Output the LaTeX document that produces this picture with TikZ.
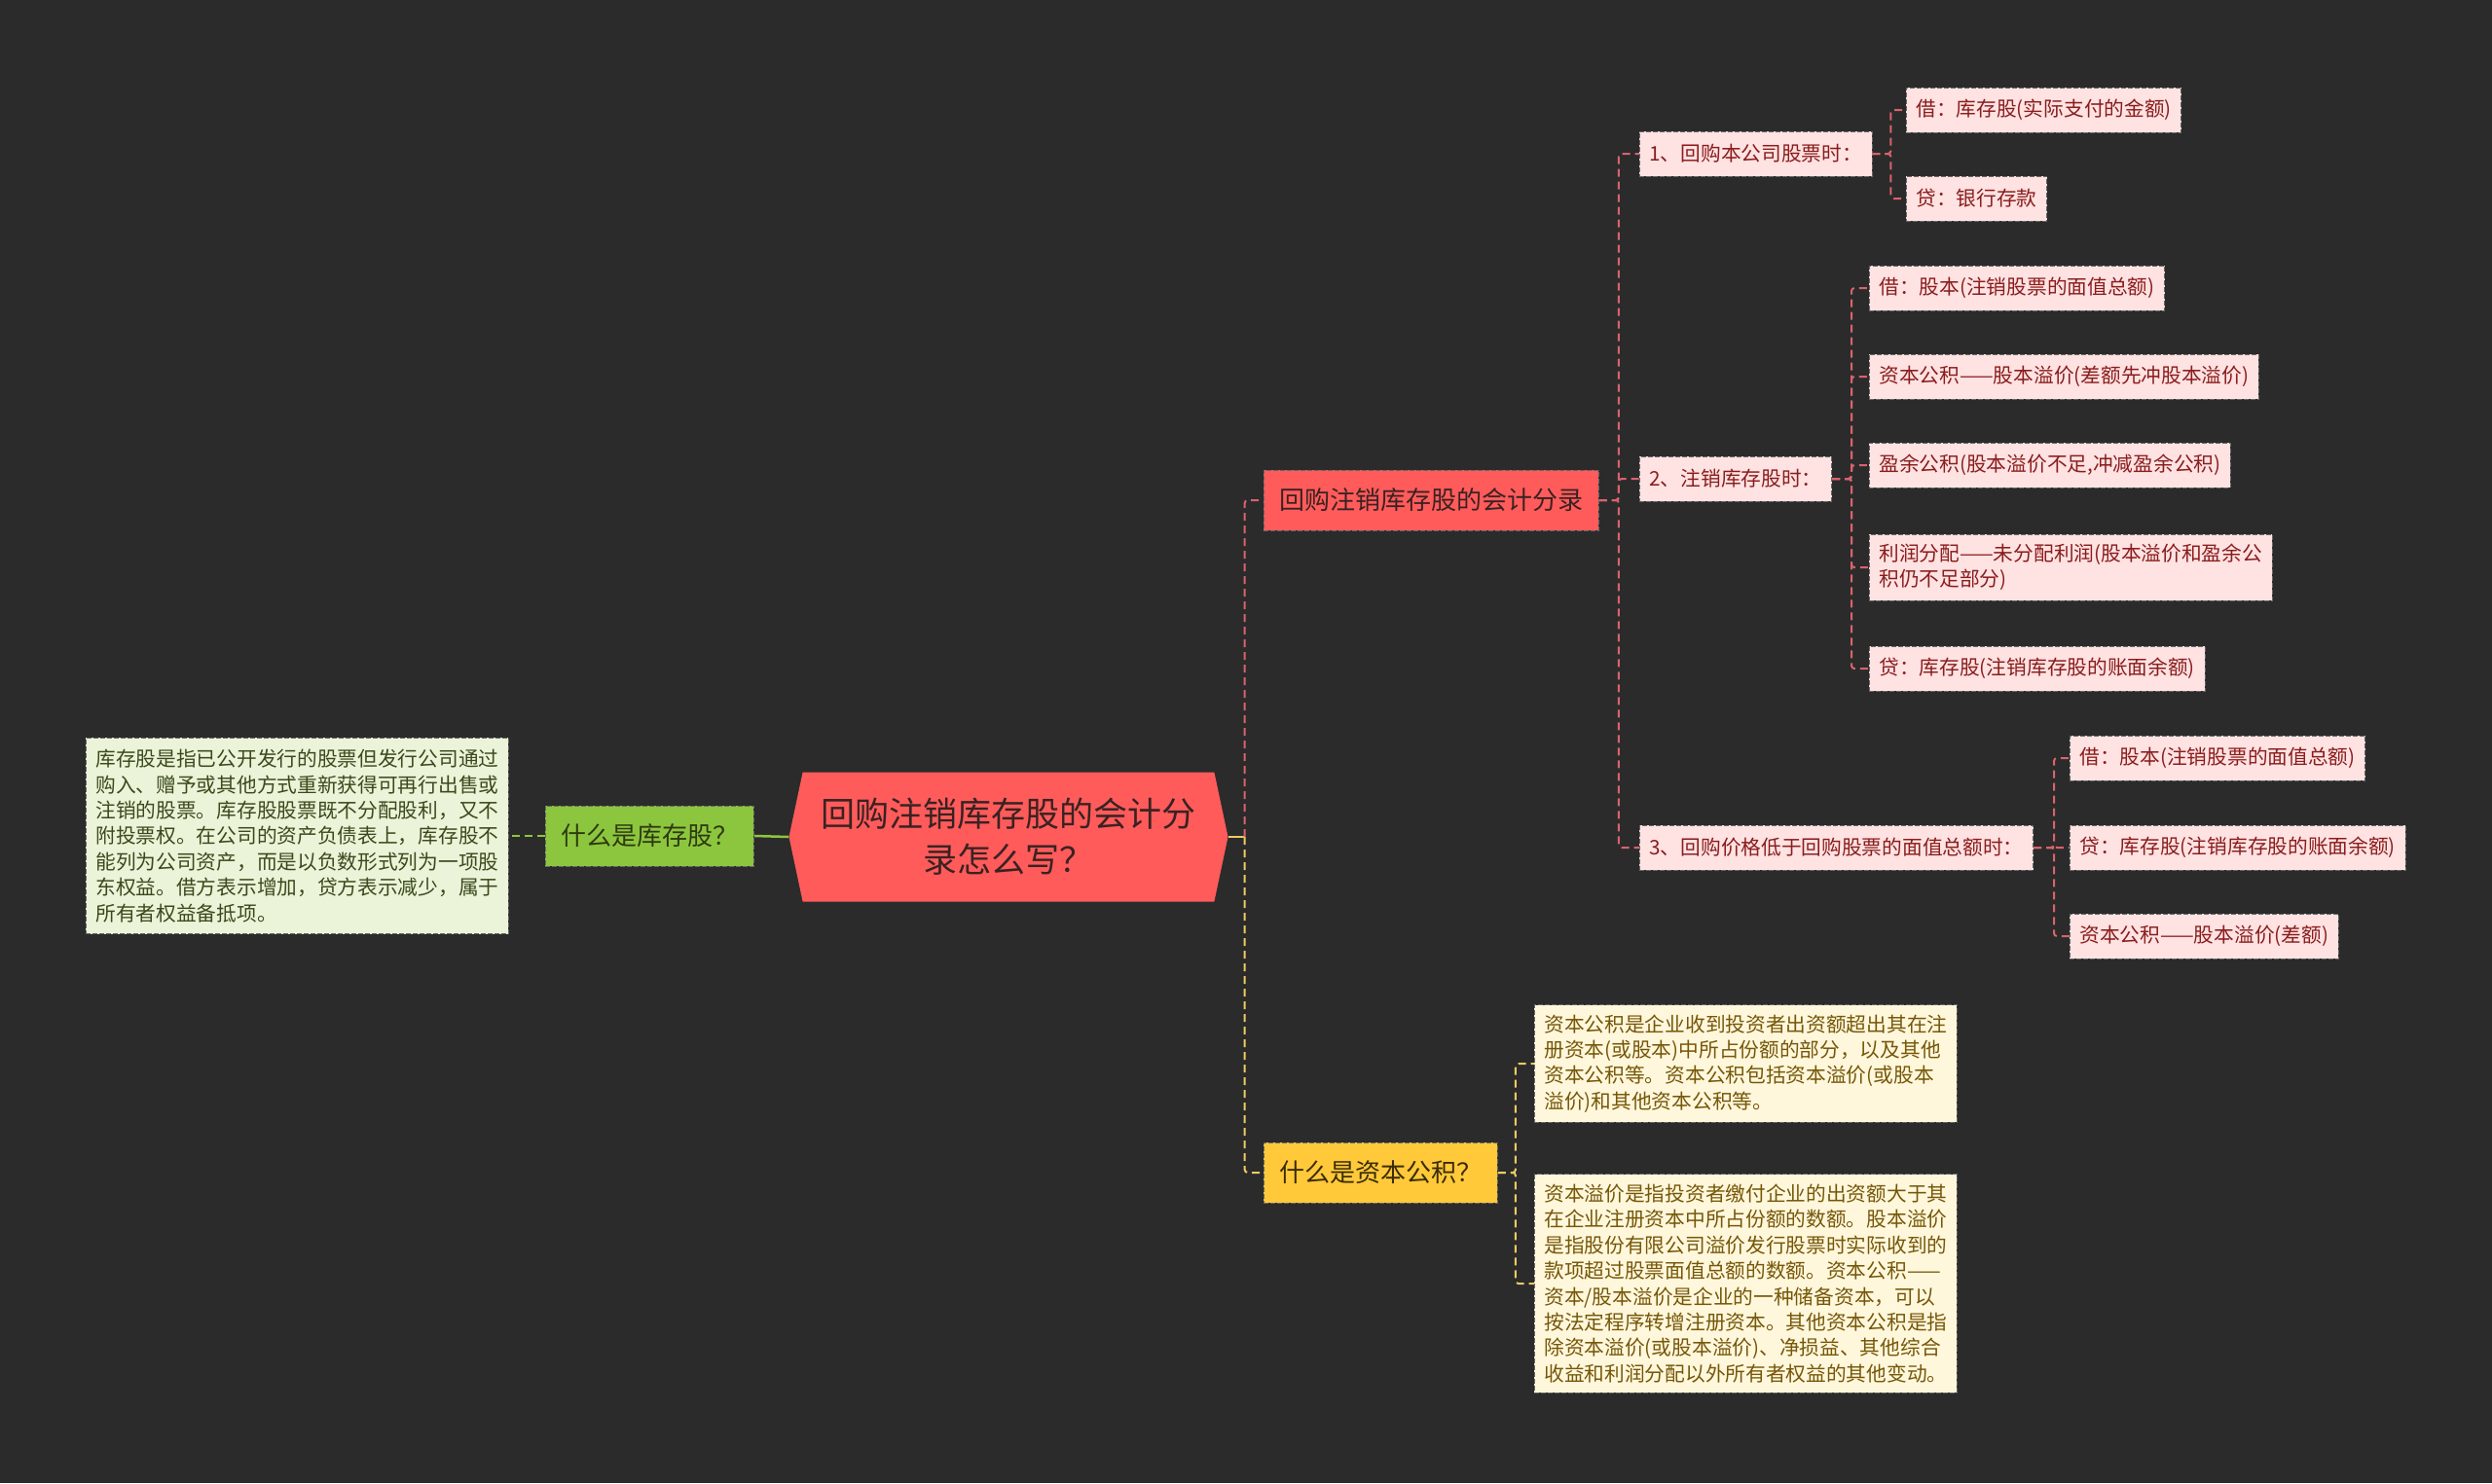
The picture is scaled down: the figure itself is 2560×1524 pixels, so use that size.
\documentclass[tikz,border=0pt]{standalone}
\usepackage{fontspec}
\setmainfont{Noto Sans CJK SC}
\usetikzlibrary{shapes.symbols}
\definecolor{bgcol}{HTML}{2B2B2B}
\definecolor{rootfill}{HTML}{FF5B5B}
\definecolor{roottext}{HTML}{3A2222}
\definecolor{pinkfill}{HTML}{FFE2E2}
\definecolor{pinktext}{HTML}{8A1D1D}
\definecolor{grnfill}{HTML}{8CC63E}
\definecolor{grntext}{HTML}{2E3A10}
\definecolor{palegrn}{HTML}{EBF3D9}
\definecolor{palegrntext}{HTML}{3B4A1C}
\definecolor{yelfill}{HTML}{FFC93A}
\definecolor{yeltext}{HTML}{3A2C06}
\definecolor{creamfill}{HTML}{FFF7DC}
\definecolor{creamtext}{HTML}{765708}
\definecolor{redln}{HTML}{D9636E}
\definecolor{yelln}{HTML}{EDCB62}
\definecolor{grnln}{HTML}{8CC63E}
\begin{document}
\begin{tikzpicture}[x=1pt,y=-1pt,
    smallfont/.style={font=\fontsize{20.7}{26.4}\selectfont},
    midfont/.style={font=\fontsize{26}{32}\selectfont},
    dashbox/.style={draw=black!60, dashed, line width=0.9pt, dash pattern=on 5pt off 2pt, anchor=west},
    leaf/.style={dashbox, smallfont, align=left, inner xsep=10pt, inner ysep=10pt, minimum height=46pt},
    pinkleaf/.style={leaf, fill=pinkfill, text=pinktext},
    creamleaf/.style={leaf, fill=creamfill, text=creamtext},
    topic/.style={dashbox, midfont, inner xsep=16pt, minimum height=62pt},
    redline/.style={draw=redln, line width=2pt, dash pattern=on 8pt off 5pt, rounded corners=3pt},
    yelline/.style={draw=yelln, line width=2pt, dash pattern=on 8pt off 5pt, rounded corners=3pt},
    grnline/.style={draw=grnln, line width=2pt, dash pattern=on 8pt off 5pt}]
  % background and page size
  \fill[bgcol] (0,0) rectangle (2560,1524);
  \useasboundingbox (0,0) rectangle (2560,1524);

  %%% root
  \node[signal, signal to=west and east, signal pointer angle=156, fill=rootfill, text=roottext,
        minimum width=451pt, minimum height=133pt, align=center,
        font=\fontsize{35}{47}\selectfont] (root) at (1036,860)
        {回购注销库存股的会计分\\录怎么写？};

  %%% left branch
  \node[topic, fill=grnfill, text=grntext] (qstock) at (560,859) {什么是库存股？};
  \node[leaf, fill=palegrn, text=palegrntext, inner ysep=12pt] (stockdef) at (88,859)
        {库存股是指已公开发行的股票但发行公司通过\\
         购入、赠予或其他方式重新获得可再行出售或\\
         注销的股票。库存股股票既不分配股利，又不\\
         附投票权。在公司的资产负债表上，库存股不\\
         能列为公司资产，而是以负数形式列为一项股\\
         东权益。借方表示增加，贷方表示减少，属于\\
         所有者权益备抵项。};

  %%% right branches
  \node[topic, fill=rootfill, text=roottext] (acct) at (1298,514) {回购注销库存股的会计分录};
  \node[topic, fill=yelfill, text=yeltext] (capq) at (1298,1205) {什么是资本公积？};

  % the three cases
  \node[pinkleaf] (buy) at (1684,158) {1、回购本公司股票时：};
  \node[pinkleaf] (cancel) at (1684,492) {2、注销库存股时：};
  \node[pinkleaf] (low) at (1684,871) {3、回购价格低于回购股票的面值总额时：};

  % case 1
  \node[pinkleaf] (buydr) at (1958,113) {借：库存股(实际支付的金额)};
  \node[pinkleaf] (buycr) at (1958,204) {贷：银行存款};
  % case 2
  \node[pinkleaf] (c1) at (1920,296) {借：股本(注销股票的面值总额)};
  \node[pinkleaf] (c2) at (1920,387) {资本公积——股本溢价(差额先冲股本溢价)};
  \node[pinkleaf] (c3) at (1920,478) {盈余公积(股本溢价不足,冲减盈余公积)};
  \node[pinkleaf] (c4) at (1920,583) {利润分配——未分配利润(股本溢价和盈余公\\积仍不足部分)};
  \node[pinkleaf] (c5) at (1920,687) {贷：库存股(注销库存股的账面余额)};
  % case 3
  \node[pinkleaf] (l1) at (2126,779) {借：股本(注销股票的面值总额)};
  \node[pinkleaf] (l2) at (2126,871) {贷：库存股(注销库存股的账面余额)};
  \node[pinkleaf] (l3) at (2126,962) {资本公积——股本溢价(差额)};

  % capital reserve
  \node[creamleaf] (capdef) at (1576,1093)
        {资本公积是企业收到投资者出资额超出其在注\\
         册资本(或股本)中所占份额的部分，以及其他\\
         资本公积等。资本公积包括资本溢价(或股本\\
         溢价)和其他资本公积等。};
  \node[creamleaf] (premdef) at (1576,1319)
        {资本溢价是指投资者缴付企业的出资额大于其\\
         在企业注册资本中所占份额的数额。股本溢价\\
         是指股份有限公司溢价发行股票时实际收到的\\
         款项超过股票面值总额的数额。资本公积——\\
         资本/股本溢价是企业的一种储备资本，可以\\
         按法定程序转增注册资本。其他资本公积是指\\
         除资本溢价(或股本溢价)、净损益、其他综合\\
         收益和利润分配以外所有者权益的其他变动。};

  %%% connectors
  \draw[yelln, line width=2.5pt] (root.east) -- ++(17,0) coordinate (rj);
  \draw[redline] (rj) |- (acct.west);
  \draw[yelline] (rj) |- (capq.west);
  \draw[grnln, line width=2.5pt] (root.west) -- (qstock.east);
  \draw[grnline] (qstock.west) -- (stockdef.east);
  \foreach \c in {buy,cancel,low}
    \draw[redline] (acct.east) -- ++(20,0) |- (\c.west);
  \foreach \c in {buydr,buycr}
    \draw[redline] (buy.east) -- ++(19,0) |- (\c.west);
  \foreach \c in {c1,c2,c3,c4,c5}
    \draw[redline] (cancel.east) -- ++(20,0) |- (\c.west);
  \foreach \c in {l1,l2,l3}
    \draw[redline] (low.east) -- ++(21,0) |- (\c.west);
  \foreach \c in {capdef,premdef}
    \draw[yelline] (capq.east) -- ++(18,0) |- (\c.west);
\end{tikzpicture}
\end{document}
